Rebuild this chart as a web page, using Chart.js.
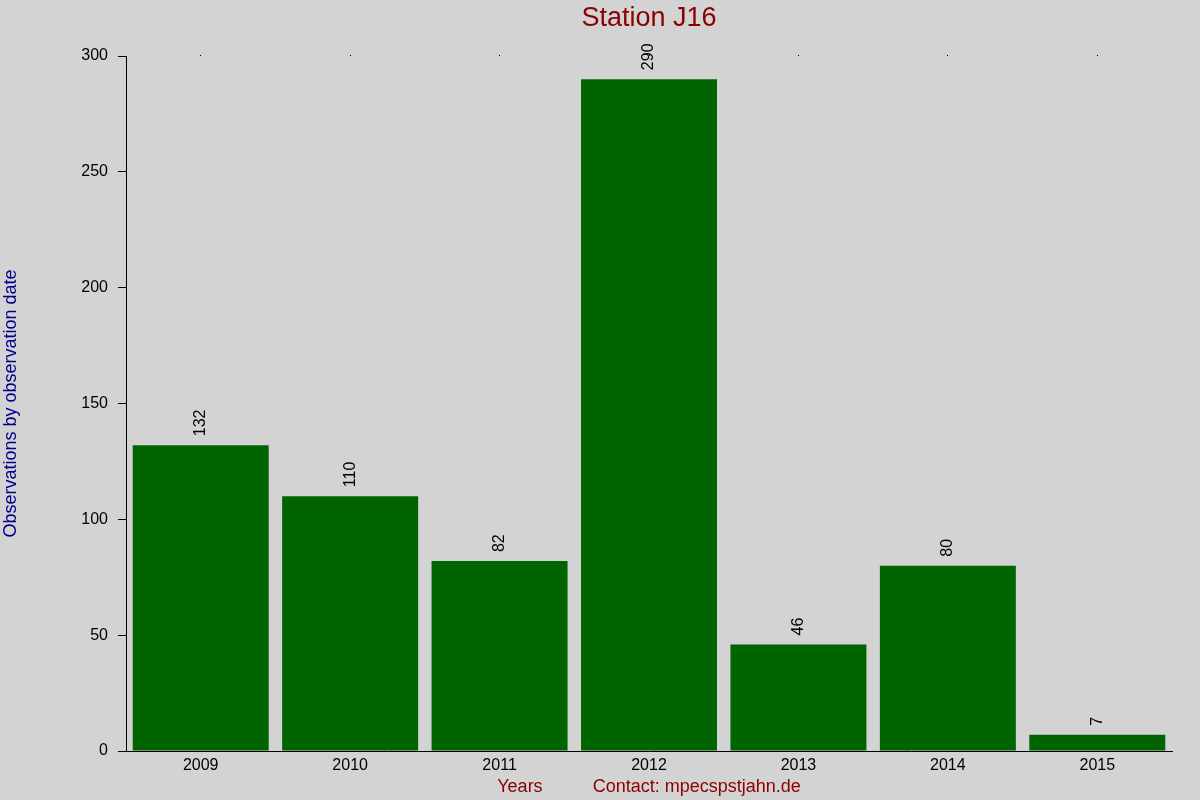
<!DOCTYPE html>
<html>
<head>
<meta charset="utf-8">
<script src="https://cdn.jsdelivr.net/npm/chart.js@4.4.1/dist/chart.umd.min.js"></script>
<style>
  html, body { margin: 0; padding: 0; background: #d3d3d3; }
  #wrap { width: 1200px; height: 800px; }
</style>
</head>
<body>
<div id="wrap"><canvas id="c" width="1200" height="800"></canvas></div>
<script>
const years = ['2009', '2010', '2011', '2012', '2013', '2014', '2015'];
const observations = [132, 110, 82, 290, 46, 80, 7];
const yTicks = [0, 50, 100, 150, 200, 250, 300];

const FONT = '"Liberation Sans", Arial, sans-serif';

const bgPlugin = {
  id: 'bg',
  beforeDraw(chart) {
    const ctx = chart.ctx;
    ctx.save();
    ctx.fillStyle = '#d3d3d3';
    ctx.fillRect(0, 0, chart.width, chart.height);
    ctx.restore();
  }
};

const valueLabels = {
  id: 'valueLabels',
  afterDatasetsDraw(chart) {
    const ctx = chart.ctx;
    const meta = chart.getDatasetMeta(0);
    ctx.save();
    ctx.font = '16px ' + FONT;
    ctx.fillStyle = '#000';
    ctx.textAlign = 'left';
    ctx.textBaseline = 'middle';
    meta.data.forEach((bar, i) => {
      ctx.save();
      ctx.translate(bar.x, bar.y - 9);
      ctx.rotate(-Math.PI / 2);
      ctx.fillText(String(observations[i]), 0, 0);
      ctx.restore();
    });
    ctx.restore();
  }
};

new Chart(document.getElementById('c'), {
  type: 'bar',
  data: {
    labels: years,
    datasets: [{
      data: observations,
      backgroundColor: '#006400',
      borderWidth: 0,
      barPercentage: 0.91,
      categoryPercentage: 1.0,
      xAxisID: 'x',
      yAxisID: 'y'
    }]
  },
  options: {
    responsive: false,
    animation: false,
    devicePixelRatio: 1,
    layout: { padding: { left: 0, right: 28, top: 0, bottom: 0 } },
    plugins: {
      legend: { display: false },
      tooltip: { enabled: false },
      title: {
        display: true,
        text: 'Station J16',
        color: '#8b0000',
        fullSize: false,
        font: { size: 27, family: FONT, weight: 'normal' },
        padding: { top: 2, bottom: 21.6 }
      }
    },
    scales: {
      x: {
        type: 'category',
        position: 'bottom',
        offset: true,
        grid: { display: true, drawOnChartArea: false, drawTicks: false },
        border: { display: true, color: '#000', width: 1 },
        ticks: {
          color: '#000',
          padding: 5,
          maxRotation: 0,
          font: { size: 16, family: FONT }
        },
        title: {
          display: true,
          text: 'Years          Contact: mpecspstjahn.de',
          color: '#8b0000',
          font: { size: 18, family: FONT },
          padding: { top: 0, bottom: 2 }
        },
        afterFit(scale) { scale.height = 49; }
      },
      xTop: {
        type: 'category',
        position: 'top',
        offset: true,
        labels: years,
        grid: { display: true, offset: false, drawOnChartArea: false, drawTicks: true, tickLength: 1, color: '#000' },
        border: { display: false },
        ticks: { display: false },
        afterFit(scale) { scale.height = 0; }
      },
      y: {
        min: 0,
        max: 300,
        afterBuildTicks(scale) { scale.ticks = yTicks.map(v => ({ value: v })); },
        grid: { display: true, drawOnChartArea: false, drawTicks: true, tickLength: 8, color: '#000' },
        border: { display: true, color: '#000', width: 1 },
        ticks: {
          color: '#000',
          padding: 10,
          font: { size: 16, family: FONT }
        },
        title: {
          display: true,
          text: 'Observations by observation date',
          color: '#00008b',
          font: { size: 18, family: FONT },
          padding: { top: 0, bottom: 0 }
        },
        afterFit(scale) { scale.width = 126; }
      }
    }
  },
  plugins: [bgPlugin, valueLabels]
});
</script>
</body>
</html>
